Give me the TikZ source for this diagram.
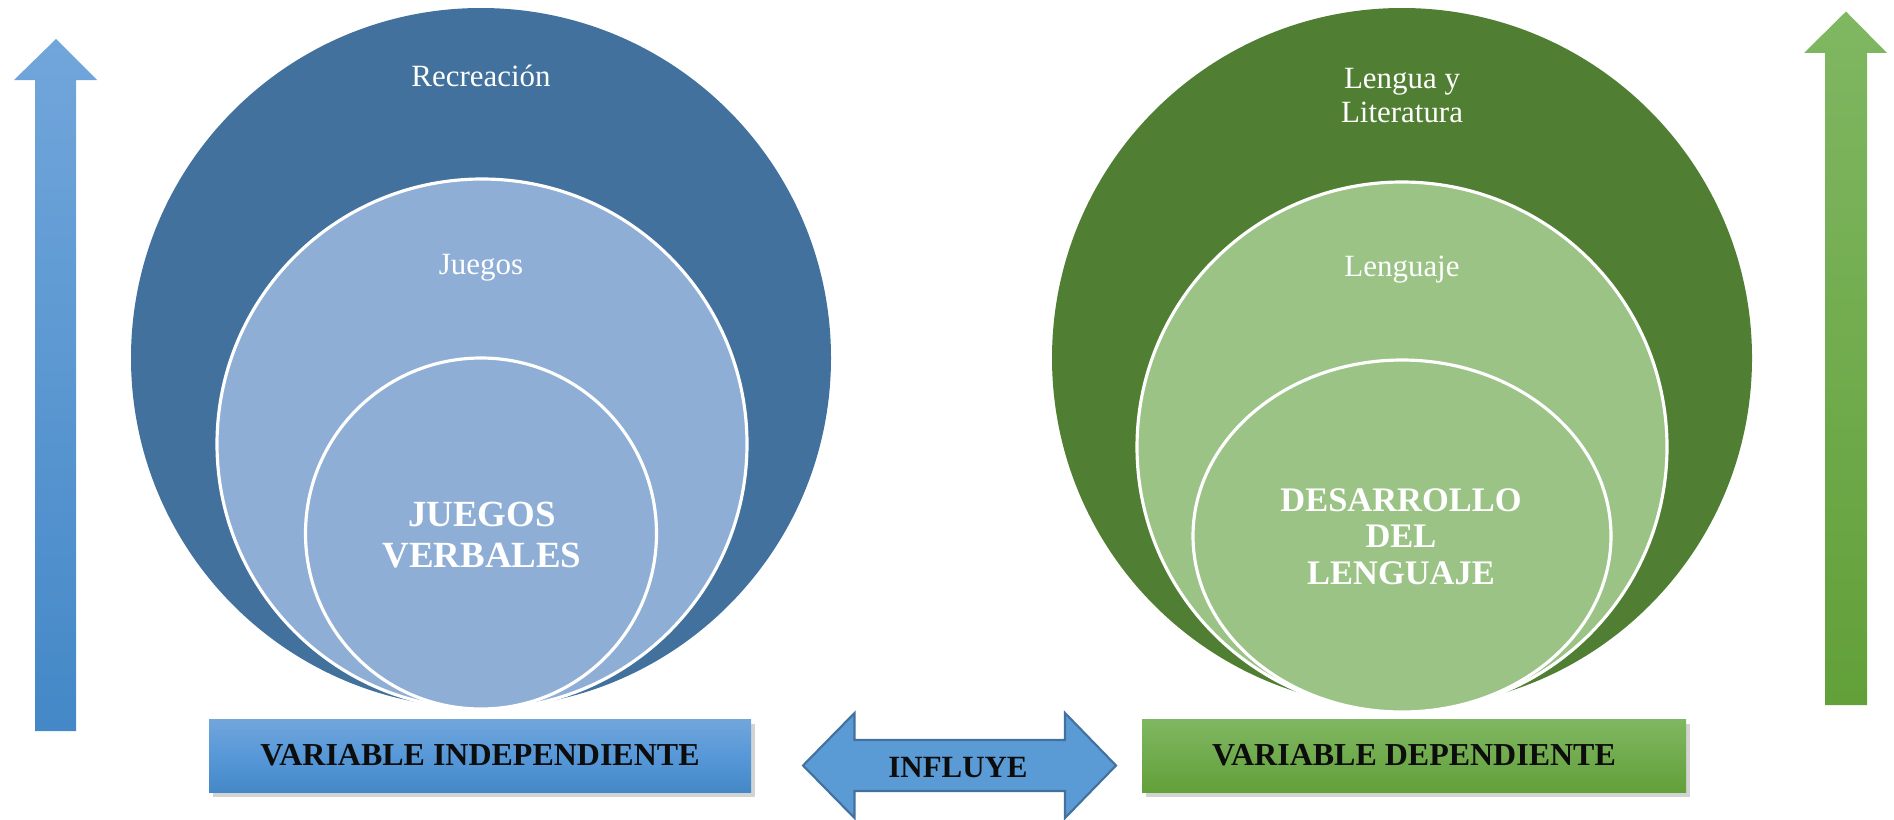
\documentclass[tikz,border=0pt]{standalone}
\usepackage{fontspec}
\setmainfont{Liberation Serif}
\usetikzlibrary{shadows}

\definecolor{bluedark}{RGB}{65,113,156}
\definecolor{bluelight}{RGB}{143,174,214}
\definecolor{greendark}{RGB}{80,126,50}
\definecolor{greenlight}{RGB}{155,195,134}
\definecolor{blueup}{RGB}{113,166,219}
\definecolor{bluedown}{RGB}{68,136,199}
\definecolor{greenup}{RGB}{128,183,98}
\definecolor{greendown}{RGB}{98,160,57}
\definecolor{bluemid}{RGB}{87,152,216}
\definecolor{arrowblue}{RGB}{91,155,213}

\begin{document}
\begin{tikzpicture}[
    ring/.style={draw=white, line width=0.9pt},
    lbl/.style={text=white, anchor=base, align=center, font=\fontsize{8.8}{9.4}\selectfont},
    core/.style={text=white, anchor=base, align=center, font=\bfseries\fontsize{10.5}{11.4}\selectfont},
    varbox/.style={minimum height=0.73cm, inner sep=0pt, text=black!95,
        font=\bfseries\fontsize{9.1}{10}\selectfont,
        drop shadow={shadow xshift=0.04cm, shadow yshift=-0.05cm, opacity=0.35}}
  ]
        \useasboundingbox (0,0) rectangle (18.94,8.19);

        % vertical arrows
        \shade[top color=blueup, bottom color=bluedown] (0.35,0.88)--(0.35,7.39)--(0.14,7.39)--(0.56,7.80)
            --(0.97,7.39)--(0.76,7.39)--(0.76,0.88)--cycle;
        \shade[top color=greenup, bottom color=greendown] (18.25,1.14)--(18.25,7.66)--(18.04,7.66)--(18.46,8.075)
            --(18.87,7.66)--(18.67,7.66)--(18.67,1.14)--cycle;

        % left circles
        \fill[bluedark] (4.81,4.61) circle [radius=3.50];
        \filldraw[ring, fill=bluelight] (4.82,3.75) circle [radius=2.65];
        \filldraw[ring, fill=bluelight] (4.81,2.855) circle [radius=1.755];

        % right circles
        \fill[greendark] (14.02,4.61) circle [radius=3.50];
        \filldraw[ring, fill=greenlight] (14.02,3.72) circle [radius=2.65];
        \filldraw[ring, fill=greenlight] (14.02,2.83) ellipse [x radius=2.09, y radius=1.76];

        % last line sits on the given point
        \node[lbl] (recreacion) at (4.81,7.32) {Recreación};
        \node[lbl] (juegos) at (4.81,5.45) {Juegos};
        \node[core] (verbales) at (4.82,2.52) {JUEGOS\\VERBALES};

        \node[lbl] (lengua) at (14.02,6.97) {Lengua y\\Literatura};
        \node[lbl] (lenguaje) at (14.02,5.43) {Lenguaje};
        \node[core, font=\bfseries\fontsize{9.8}{10.25}\selectfont] (desarrollo) at (14.01,2.35) {DESARROLLO\\DEL\\LENGUAJE};

        % bottom row
        \node[varbox, minimum width=5.42cm, top color=blueup, bottom color=bluedown, middle color=bluemid]
            (indep) at (4.80,0.635) {VARIABLE INDEPENDIENTE};
        \node[varbox, minimum width=5.44cm, top color=greenup, bottom color=greendown]
            (dep) at (14.14,0.635) {VARIABLE DEPENDIENTE};

        \filldraw[fill=arrowblue, draw=bluedark, line width=0.6pt] (8.03,0.535)--(8.545,1.06)--(8.545,0.79)
            --(10.65,0.79)--(10.65,1.06)--(11.16,0.535)--(10.65,0.01)--(10.65,0.28)--(8.545,0.28)--(8.545,0.01)--cycle;
        \node[anchor=base, text=black!95, font=\bfseries\fontsize{8.8}{10}\selectfont] (influye) at (9.58,0.42) {INFLUYE};
\end{tikzpicture}
\end{document}
